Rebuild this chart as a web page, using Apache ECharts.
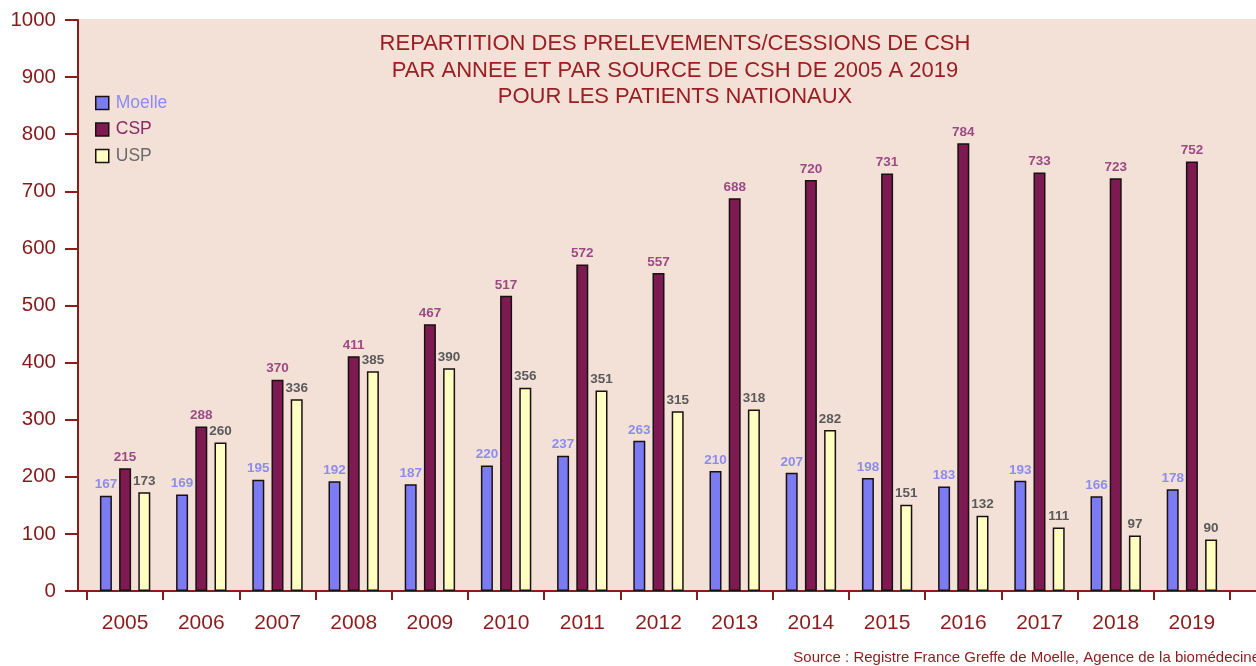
<!DOCTYPE html>
<html>
<head>
<meta charset="utf-8">
<script src="https://cdn.jsdelivr.net/npm/echarts@6/dist/echarts.min.js"></script>
<style>html,body{margin:0;padding:0;background:#fff;}#c{width:1256px;height:666px;}</style>
</head>
<body>
<div id="c"></div>
<script>
var years = ['2005','2006','2007','2008','2009','2010','2011','2012','2013','2014','2015','2016','2017','2018','2019'];
var moelle = [167,169,195,192,187,220,237,263,210,207,198,183,193,166,178];
var csp = [215,288,370,411,467,517,572,557,688,720,731,784,733,723,752];
var usp = [173,260,336,385,390,356,351,315,318,282,151,132,111,97,90];
var seriesNames = ['Moelle','CSP','USP'];
var titleLines = ['REPARTITION DES PRELEVEMENTS/CESSIONS DE CSH','PAR ANNEE ET PAR SOURCE DE CSH DE 2005 A 2019','POUR LES PATIENTS NATIONAUX'];
var sourceText = 'Source : Registre France Greffe de Moelle, Agence de la biomédecine';

var axisRed = '#8c1c1c';
var font = 'Liberation Sans, Arial, sans-serif';
var chart = echarts.init(document.getElementById('c'));

function barSeries(name, data, color, labelColor) {
  return {
    name: name, type: 'bar', data: data,
    barWidth: 12, barGap: '60%',
    itemStyle: { color: color, borderColor: '#1a1010', borderWidth: 1.5 },
    label: { show: true, position: 'top', distance: 4, color: labelColor, fontSize: 13.5, fontFamily: font, fontWeight: 'bold' }
  };
}

chart.setOption({
  animation: false,
  backgroundColor: '#ffffff',
  textStyle: { fontFamily: font },
  title: {
    text: titleLines.join('\n'),
    left: 670, top: 26, textAlign: 'center',
    textStyle: { color: '#9a1e22', fontSize: 22, fontWeight: 'normal', lineHeight: 26.5, fontFamily: font }
  },
  legend: {
    orient: 'vertical', left: 90, top: 89, itemGap: 8.5,
    itemWidth: 13, itemHeight: 13, icon: 'rect',
    data: [
      { name: 'Moelle', textStyle: { color: '#8c8cf0' } },
      { name: 'CSP', textStyle: { color: '#8a2a68' } },
      { name: 'USP', textStyle: { color: '#6a6a6a' } }
    ],
    textStyle: { fontSize: 17.5, fontFamily: font, padding: [0, 0, 0, 2] },
    itemStyle: { borderColor: '#1a1010', borderWidth: 1.5 }
  },
  graphic: [
    { type: 'rect', z: -10, silent: true, shape: { x: 78, y: 19, width: 1178, height: 572 }, style: { fill: '#f3e1d8' } },
    { type: 'line', z: 0, silent: true, shape: { x1: 78, y1: 591, x2: 1256, y2: 591 }, style: { stroke: axisRed, lineWidth: 2 } },
    { type: 'text', right: -4, top: 650, style: { text: sourceText, fill: '#8c1c1c', font: '15px Liberation Sans, Arial, sans-serif' } }
  ],
  grid: { left: 87, right: 26, top: 20, bottom: 75, containLabel: false },
  xAxis: {
    type: 'category', data: years,
    axisLine: { lineStyle: { color: axisRed, width: 2 } },
    axisTick: { show: true, length: 9, lineStyle: { color: axisRed, width: 2 } },
    axisLabel: { color: axisRed, fontSize: 21, margin: 22, fontFamily: font },
    splitLine: { show: false }
  },
  yAxis: {
    type: 'value', min: 0, max: 1000, interval: 100, offset: 9,
    axisLine: { show: true, lineStyle: { color: axisRed, width: 2 } },
    axisTick: { show: true, length: 13, lineStyle: { color: axisRed, width: 2 } },
    axisLabel: { color: '#861a1a', fontSize: 20.5, margin: 22, fontFamily: font, formatter: function (v) { return String(v); } },
    splitLine: { show: false }
  },
  series: [
    barSeries(seriesNames[0], moelle, '#7b7cf4', '#8c8cf0'),
    barSeries(seriesNames[1], csp, '#7e1a52', '#9b4a83'),
    barSeries(seriesNames[2], usp, '#ffffc2', '#5a5a5a')
  ]
});
</script>
</body>
</html>
